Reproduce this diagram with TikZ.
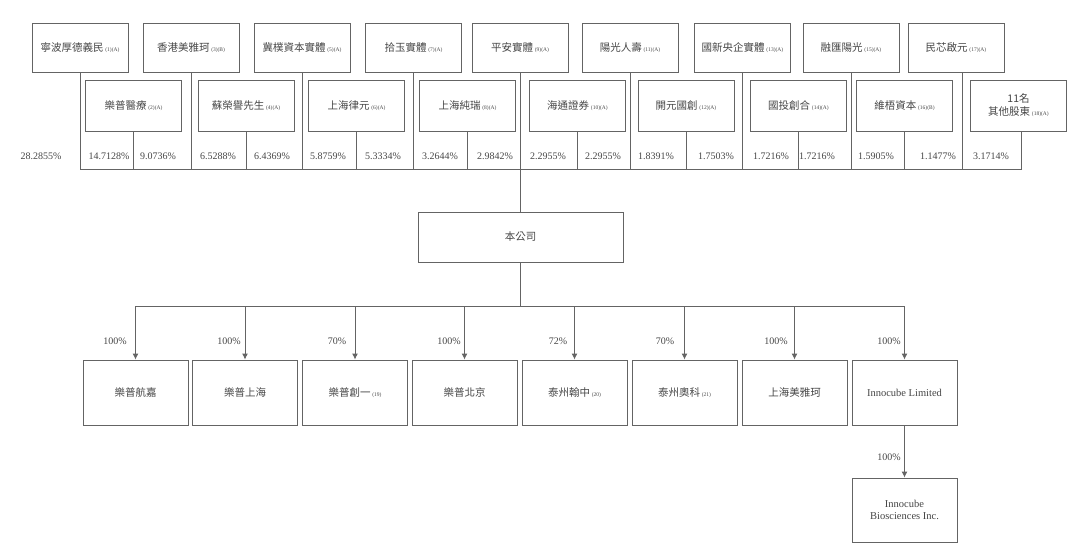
\documentclass[tikz,border=0pt]{standalone}
\usepackage{fontspec}
\setmainfont{Liberation Serif}
\newfontfamily\cjk{Noto Sans CJK TC}
\usetikzlibrary{arrows.meta}
\definecolor{linegray}{RGB}{100,100,100}
\definecolor{textgray}{RGB}{70,70,70}
\newcommand{\nt}[1]{\,{\rmfamily\fontsize{5.5}{6}\selectfont #1}}

\begin{document}
\begin{tikzpicture}[x=1pt,y=-1pt,
  line width=0.9pt,
  holder/.style={draw=linegray,minimum width=96pt,minimum height=49pt,inner sep=0pt,
    align=center,text=textgray,font=\cjk\fontsize{10.5}{13}\selectfont},
  holder2/.style={holder,minimum height=51pt},
  company/.style={holder,minimum width=105pt,minimum height=65pt},
  pct/.style={text=textgray,inner sep=0pt,font=\fontsize{10}{12}\selectfont},
  arr/.style={draw=linegray,-{Latex[length=6pt,width=6pt]}}]
  \useasboundingbox (0,0) rectangle (1080,552);
  \coordinate (bus) at (0,169);
  \coordinate (bus2) at (0,306);
  % shareholders, upper row
  \node[holder] (t1) at (80,47.5) {寧波厚德義民\nt{(1)(A)}};
  \node[holder] (t2) at (191,47.5) {香港美雅珂\nt{(3)(B)}};
  \node[holder] (t3) at (302,47.5) {冀樸資本實體\nt{(5)(A)}};
  \node[holder] (t4) at (413.5,47.5) {拾玉實體\nt{(7)(A)}};
  \node[holder] (t5) at (520,47.5) {平安實體\nt{(9)(A)}};
  \node[holder] (t6) at (630,47.5) {陽光人壽\nt{(11)(A)}};
  \node[holder] (t7) at (742.5,47.5) {國新央企實體\nt{(13)(A)}};
  \node[holder] (t8) at (851,47.5) {融匯陽光\nt{(15)(A)}};
  \node[holder] (t9) at (956,47.5) {民芯啟元\nt{(17)(A)}};
  % shareholders, lower row
  \node[holder2] (s1) at (133.5,105.5) {樂普醫療\nt{(2)(A)}};
  \node[holder2] (s2) at (246,105.5) {蘇榮譽先生\nt{(4)(A)}};
  \node[holder2] (s3) at (356.5,105.5) {上海律元\nt{(6)(A)}};
  \node[holder2] (s4) at (467.5,105.5) {上海純瑞\nt{(8)(A)}};
  \node[holder2] (s5) at (577.5,105.5) {海通證券\nt{(10)(A)}};
  \node[holder2] (s6) at (686,105.5) {開元國創\nt{(12)(A)}};
  \node[holder2] (s7) at (798.5,105.5) {國投創合\nt{(14)(A)}};
  \node[holder2] (s8) at (904.5,105.5) {維梧資本\nt{(16)(B)}};
  \node[holder2] (s9) at (1018.5,105.5) {11名\\其他股東\nt{(18)(A)}};
  % stakes
  \node[pct] (p1) at (41,156) {28.2855\%};
  \node[pct] (p2) at (109,156) {14.7128\%};
  \node[pct] (p3) at (158,156) {9.0736\%};
  \node[pct] (p4) at (218,156) {6.5288\%};
  \node[pct] (p5) at (272,156) {6.4369\%};
  \node[pct] (p6) at (328,156) {5.8759\%};
  \node[pct] (p7) at (383,156) {5.3334\%};
  \node[pct] (p8) at (440,156) {3.2644\%};
  \node[pct] (p9) at (495,156) {2.9842\%};
  \node[pct] (p10) at (548,156) {2.2955\%};
  \node[pct] (p11) at (603,156) {2.2955\%};
  \node[pct] (p12) at (656,156) {1.8391\%};
  \node[pct] (p13) at (716,156) {1.7503\%};
  \node[pct] (p14) at (771,156) {1.7216\%};
  \node[pct] (p15) at (817,156) {1.7216\%};
  \node[pct] (p16) at (876,156) {1.5905\%};
  \node[pct] (p17) at (938,156) {1.1477\%};
  \node[pct] (p18) at (991,156) {3.1714\%};
  % the company
  \node[holder,minimum width=205pt,minimum height=50pt] (main) at (520.5,237) {本公司};
  % subsidiaries
  \node[company] (b1) at (135.5,392.5) {樂普航嘉};
  \node[company] (b2) at (245,392.5) {樂普上海};
  \node[company] (b3) at (355,392.5) {樂普創一\nt{(19)}};
  \node[company] (b4) at (464.5,392.5) {樂普北京};
  \node[company] (b5) at (574.5,392.5) {泰州翰中\nt{(20)}};
  \node[company] (b6) at (684.5,392.5) {泰州奧科\nt{(21)}};
  \node[company] (b7) at (794.5,392.5) {上海美雅珂};
  \node[company,font=\fontsize{10.5}{12}\selectfont] (b8) at (904.5,392.5) {Innocube Limited};
  \node[company,minimum height=64pt,font=\fontsize{10.5}{12}\selectfont] (bio) at (904.5,510) {Innocube\\Biosciences Inc.};
  \node[pct] (q1) at (115,341) {100\%};
  \node[pct] (q2) at (229,341) {100\%};
  \node[pct] (q3) at (337,341) {70\%};
  \node[pct] (q4) at (449,341) {100\%};
  \node[pct] (q5) at (558,341) {72\%};
  \node[pct] (q6) at (665,341) {70\%};
  \node[pct] (q7) at (776,341) {100\%};
  \node[pct] (q8) at (889,341) {100\%};
  \node[pct] (q9) at (889,457) {100\%};
  % upper lines
  \begin{scope}[draw=linegray]
    \draw (t1.south) -- (t1.south |- bus);
    \draw (t2.south) -- (t2.south |- bus);
    \draw (t3.south) -- (t3.south |- bus);
    \draw (t4.south) -- (t4.south |- bus);
    \draw (t5.south) -- (t5.south |- bus);
    \draw (t6.south) -- (t6.south |- bus);
    \draw (t7.south) -- (t7.south |- bus);
    \draw (t8.south) -- (t8.south |- bus);
    \draw ([xshift=6pt]t9.south) -- ([xshift=6pt]t9.south |- bus);
    \draw (s1.south) -- (s1.south |- bus);
    \draw (s2.south) -- (s2.south |- bus);
    \draw (s3.south) -- (s3.south |- bus);
    \draw (s4.south) -- (s4.south |- bus);
    \draw (s5.south) -- (s5.south |- bus);
    \draw (s6.south) -- (s6.south |- bus);
    \draw (s7.south) -- (s7.south |- bus);
    \draw (s8.south) -- (s8.south |- bus);
    \draw ([xshift=3pt]s9.south) -- ([xshift=3pt]s9.south |- bus);
    \draw (t1.south |- bus) -- ([xshift=3pt]s9.south |- bus);
    \draw (main.north) -- (main.north |- bus);
    % lower lines
    \draw (main.south) -- (main.south |- bus2);
    \draw (b1.north |- bus2) -- (b8.north |- bus2);
  \end{scope}
  \draw[arr] (b1.north |- bus2) -- (b1.north);
  \draw[arr] (b2.north |- bus2) -- (b2.north);
  \draw[arr] (b3.north |- bus2) -- (b3.north);
  \draw[arr] (b4.north |- bus2) -- (b4.north);
  \draw[arr] (b5.north |- bus2) -- (b5.north);
  \draw[arr] (b6.north |- bus2) -- (b6.north);
  \draw[arr] (b7.north |- bus2) -- (b7.north);
  \draw[arr] (b8.north |- bus2) -- (b8.north);
  \draw[arr] (b8.south) -- (bio.north);
\end{tikzpicture}
\end{document}
